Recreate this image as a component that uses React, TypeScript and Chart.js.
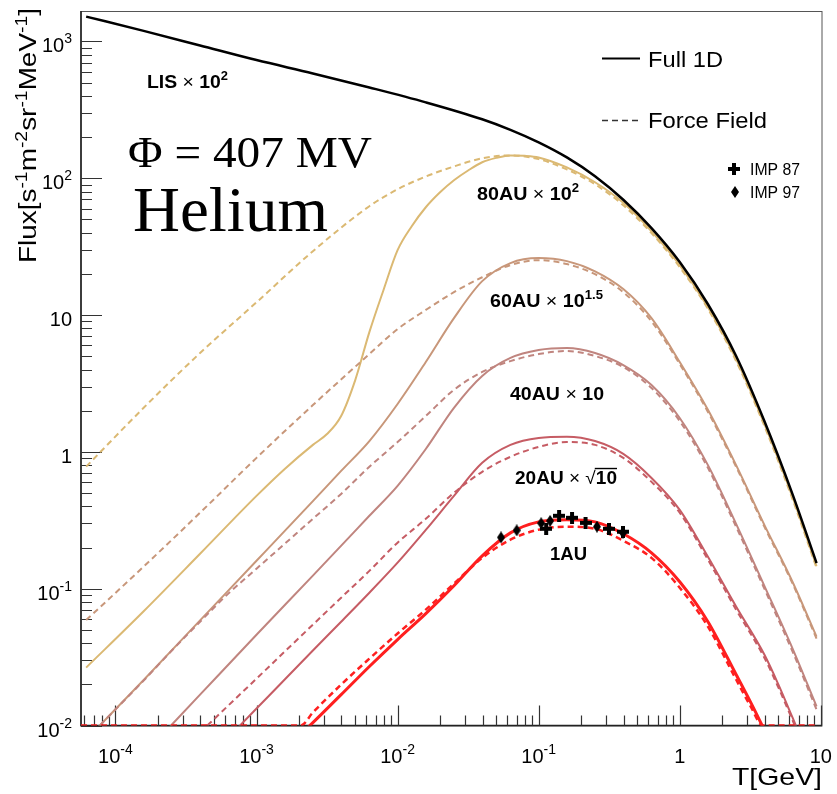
import React, { useEffect, useRef } from 'react';
import { Chart, registerables } from 'chart.js';

Chart.register(...registerables);

// ---------- axis ranges ----------
const X_MIN = 5.7e-5;
const X_MAX = 10.2;
const Y_MIN = 0.01;
const Y_MAX = 1670;

// ---------- tick labels ----------
const X_TICK_VALUES = [1e-4, 1e-3, 1e-2, 1e-1, 1, 10];
const X_TICK_LABELS = [['10', '-4'], ['10', '-3'], ['10', '-2'], ['10', '-1'], ['1', ''], ['10', '']];
const Y_TICK_VALUES = [0.01, 0.1, 1, 10, 100, 1000];
const Y_TICK_LABELS = [['10', '-2'], ['10', '-1'], ['1', ''], ['10', ''], ['10', '2'], ['10', '3']];

// ---------- series (T in GeV, flux) ----------
const LIS_T = [6.2e-5, 1.585e-4, 3.98e-4, 1e-3, 2.51e-3, 6.31e-3, 0.01585, 0.0398, 0.0631, 0.1, 0.1585, 0.251, 0.398, 0.631, 1, 1.585, 2.51, 3.98, 6.31, 9.33];
const LIS_F = [1520, 1195, 935, 731, 584, 461, 359, 270, 226, 183, 142, 103.5, 69.7, 43.2, 24.4, 12.0, 5.02, 1.68, 0.489, 0.154];

const AU80_T = [6.2e-5, 1.585e-4, 3.98e-4, 1e-3, 1.585e-3, 2.51e-3, 3.16e-3, 3.98e-3, 5.01e-3, 6.31e-3, 7.94e-3, 0.01, 0.0126, 0.01585, 0.02, 0.0251, 0.0316, 0.0398, 0.05, 0.0631, 0.0794, 0.1, 0.1585, 0.251, 0.398, 0.631, 1, 1.585, 2.51, 3.98, 6.31, 9.33];
const AU80_F = [0.0265, 0.0684, 0.18, 0.477, 0.751, 1.125, 1.35, 1.83, 3.35, 7.5, 15.2, 29.8, 44.6, 61.4, 79.0, 96.7, 114, 131, 141, 147, 146, 142, 120, 93.5, 66.2, 41.0, 23.2, 11.4, 4.77, 1.6, 0.466, 0.146];
const AU80FF_T = [6.2e-5, 1.585e-4, 3.98e-4, 1e-3, 2.51e-3, 6.31e-3, 0.01, 0.01585, 0.0251, 0.0398, 0.0631, 0.1, 0.1585, 0.251, 0.398, 0.631, 1, 1.585, 2.51, 3.98, 6.31, 9.33];
const AU80FF_F = [0.78, 2.1, 5.28, 12.4, 29.3, 62.5, 83.1, 103, 122, 140, 147, 138, 116, 90.4, 63.5, 39.7, 22.4, 11.1, 4.62, 1.55, 0.45, 0.142];

const AU60_T = [6.2e-5, 1.585e-4, 3.98e-4, 1e-3, 2.51e-3, 3.98e-3, 6.31e-3, 0.01, 0.01585, 0.0251, 0.0398, 0.0631, 0.1, 0.1585, 0.251, 0.398, 0.631, 1, 1.585, 2.51, 3.98, 6.31, 9.33];
const AU60_F = [0.0079, 0.0215, 0.0587, 0.16, 0.437, 0.726, 1.2, 2.24, 4.54, 9.5, 17.7, 24.0, 26.1, 24.8, 20.9, 15.5, 9.5, 4.54, 2.03, 0.8, 0.293, 0.112, 0.0446];
const AU60FF_T = [6.2e-5, 1.585e-4, 3.98e-4, 1e-3, 2.51e-3, 6.31e-3, 0.01, 0.01585, 0.0251, 0.0398, 0.0631, 0.1, 0.1585, 0.251, 0.398, 0.631, 1, 1.585, 2.51, 3.98, 6.31, 9.33];
const AU60FF_F = [0.059, 0.145, 0.359, 0.904, 2.2, 5.19, 7.9, 10.9, 14.7, 18.9, 23.2, 25.2, 23.6, 19.9, 14.7, 9.0, 4.39, 1.96, 0.778, 0.284, 0.109, 0.0432];

const AU40_T = [2.0e-4, 3.98e-4, 1e-3, 2.51e-3, 6.31e-3, 0.01, 0.01585, 0.0251, 0.0398, 0.0631, 0.1, 0.1585, 0.251, 0.398, 0.631, 1, 1.585, 2.51, 3.98, 6.31, 9.33];
const AU40_F = [0.0079, 0.0168, 0.0461, 0.1245, 0.341, 0.565, 1.05, 2.1, 3.59, 4.86, 5.55, 5.74, 5.28, 4.31, 3.08, 1.77, 0.8, 0.298, 0.105, 0.0365, 0.0138];
const AU40FF_T = [6.2e-5, 1e-4, 1.585e-4, 2.51e-4, 3.98e-4, 6.31e-4, 1e-3, 1.585e-3, 2.51e-3, 3.98e-3, 6.31e-3, 0.01, 0.01585, 0.0251, 0.0398, 0.0631, 0.1, 0.1585, 0.251, 0.398, 0.631, 1, 1.585, 2.51, 3.98, 6.31, 9.33];
const AU40FF_F = [0.0079, 0.0131, 0.0213, 0.0353, 0.0574, 0.092, 0.14, 0.213, 0.324, 0.493, 0.778, 1.18, 1.83, 2.84, 3.84, 4.61, 5.19, 5.46, 5.02, 4.17, 2.93, 1.68, 0.764, 0.284, 0.1, 0.0347, 0.0131];

const AU20_T = [6.31e-4, 1e-3, 1.585e-3, 2.51e-3, 3.98e-3, 6.31e-3, 0.01, 0.01585, 0.0251, 0.0398, 0.0631, 0.1, 0.1585, 0.251, 0.398, 0.631, 1, 1.585, 2.51, 3.98, 5.01, 6.31, 7.08];
const AU20_F = [0.00817, 0.0133, 0.0217, 0.0353, 0.0574, 0.0935, 0.155, 0.269, 0.477, 0.832, 1.125, 1.265, 1.29, 1.2, 0.967, 0.645, 0.377, 0.171, 0.074, 0.033, 0.0199, 0.0114, 0.0086];
const AU20FF_T = [3.98e-4, 6.31e-4, 1e-3, 1.585e-3, 2.51e-3, 3.98e-3, 6.31e-3, 0.01, 0.01585, 0.0251, 0.0398, 0.0631, 0.1, 0.1585, 0.251, 0.398, 0.631, 1, 1.585, 2.51, 3.98, 5.01, 6.31, 7.08];
const AU20FF_F = [0.00889, 0.014, 0.022, 0.0347, 0.0546, 0.0859, 0.135, 0.217, 0.324, 0.502, 0.715, 0.92, 1.087, 1.18, 1.125, 0.904, 0.604, 0.359, 0.163, 0.0703, 0.0313, 0.0189, 0.0109, 0.0082];

const AU1_T = [2.24e-3, 2.51e-3, 3.98e-3, 6.31e-3, 0.01, 0.01585, 0.0251, 0.0398, 0.0631, 0.1, 0.1585, 0.251, 0.398, 0.631, 1, 1.585, 2.51, 3.16, 3.98];
const AU1_F = [0.00935, 0.0105, 0.0168, 0.027, 0.0425, 0.0657, 0.105, 0.174, 0.256, 0.308, 0.319, 0.308, 0.252, 0.183, 0.1125, 0.0574, 0.0236, 0.015, 0.0093];
const AU1FF_T = [5.7e-5, 2.06e-3, 2.51e-3, 3.98e-3, 6.31e-3, 0.01, 0.01585, 0.0251, 0.0398, 0.0631, 0.1, 0.1585, 0.251, 0.398, 0.631, 1, 1.585, 2.51, 3.16, 3.89, 9.33];
const AU1FF_F = [0.01, 0.01, 0.01245, 0.0199, 0.0308, 0.047, 0.0703, 0.109, 0.168, 0.228, 0.27, 0.284, 0.274, 0.224, 0.168, 0.1017, 0.0528, 0.0217, 0.014, 0.01, 0.01];

const IMP87_T = [0.113, 0.1396, 0.1725, 0.215, 0.315, 0.396];
const IMP87_F = [0.274, 0.341, 0.33, 0.303, 0.274, 0.261];
const IMP97_T = [0.0541, 0.0699, 0.1042, 0.1205, 0.259, 0.396];
const IMP97_F = [0.237, 0.267, 0.301, 0.313, 0.284, 0.256];

// ---------- colours ----------
const C_LIS = '#000000';
const C_80 = '#dbb973';
const C_60 = '#c8977a';
const C_40 = '#c0857f';
const C_20 = '#c65c64';
const C_1 = '#ff1f1f';

const SANS = '"Liberation Sans", Arial, Helvetica, sans-serif';
const SERIF = '"Liberation Serif", "Times New Roman", serif';

type Seg = { t: string; px: number; bold?: boolean; serif?: boolean; rise?: number; over?: boolean };

function fontOf(s: Seg) {
  return `${s.bold ? 'bold ' : ''}${s.px}px ${s.serif ? SERIF : SANS}`;
}

function drawRich(ctx: CanvasRenderingContext2D, segs: Seg[], x: number, y: number, align: string, target?: number, rot = 0) {
  let w = 0;
  const ws: number[] = [];
  for (const s of segs) {
    ctx.font = fontOf(s);
    const m = ctx.measureText(s.t).width;
    ws.push(m);
    w += m;
  }
  const k = target ? target / w : 1;
  ctx.save();
  ctx.translate(x, y);
  if (rot) ctx.rotate(rot);
  ctx.scale(k, 1);
  let cx = align === 'left' ? 0 : align === 'right' ? -w : -w / 2;
  ctx.textAlign = 'left';
  ctx.textBaseline = 'alphabetic';
  ctx.fillStyle = '#000';
  ctx.strokeStyle = '#000';
  segs.forEach((s, i) => {
    ctx.font = fontOf(s);
    ctx.fillText(s.t, cx, -(s.rise || 0));
    if (s.over) {
      const oy = -(s.rise || 0) - s.px * 0.86;
      ctx.lineWidth = 1.4;
      ctx.beginPath();
      ctx.moveTo(cx - 1, oy);
      ctx.lineTo(cx + ws[i], oy);
      ctx.stroke();
    }
    cx += ws[i];
  });
  ctx.restore();
}

function makeCross() {
  const c = document.createElement('canvas');
  c.width = 12; c.height = 12;
  const g = c.getContext('2d')!;
  g.fillStyle = '#000';
  g.fillRect(0, 4, 12, 4);
  g.fillRect(4, 0, 4, 12);
  return c;
}
function makeDiamond() {
  const c = document.createElement('canvas');
  c.width = 8; c.height = 12;
  const g = c.getContext('2d')!;
  g.fillStyle = '#000';
  g.beginPath();
  g.moveTo(4, 0); g.lineTo(8, 6); g.lineTo(4, 12); g.lineTo(0, 6); g.closePath();
  g.fill();
  return c;
}

const pts = (t: number[], f: number[]) => t.map((v, i) => ({ x: v, y: f[i] }));

export default function App() {
  const ref = useRef<HTMLCanvasElement>(null);

  useEffect(() => {
    if (!ref.current) return;
    const cross = makeCross();
    const diamond = makeDiamond();

    const line = (label: string, t: number[], f: number[], color: string, width: number, dashed: boolean) => ({
      label,
      data: pts(t, f),
      borderColor: color,
      backgroundColor: color,
      borderWidth: width,
      borderDash: dashed ? [6, 4] : [],
      pointRadius: 0,
      fill: false,
      cubicInterpolationMode: 'monotone' as const,
      showLine: true,
    });

    const rootPlugin = {
      id: 'rootStyle',
      beforeDatasetsDraw(chart: any) {
        const { ctx, chartArea: a, scales } = chart;
        const xs = scales.x;
        const ys = scales.y;
        ctx.save();
        ctx.strokeStyle = '#555';
        ctx.lineWidth = 1;
        ctx.strokeRect(a.left, a.top + 0.5, a.right - a.left, a.bottom - a.top);
        ctx.strokeStyle = '#222';
        ctx.lineWidth = 1.6;
        ctx.beginPath();
        ctx.moveTo(a.left, a.top);
        ctx.lineTo(a.left, a.bottom);
        ctx.lineTo(a.right, a.bottom);
        ctx.stroke();
        ctx.lineWidth = 1.2;
        ctx.strokeStyle = '#333';
        ctx.beginPath();
        for (let d = -6; d <= 4; d++) {
          for (let m = 1; m <= 9; m++) {
            const v = m * Math.pow(10, d);
            if (v >= X_MIN && v <= X_MAX * 1.0001) {
              const p = Math.round(xs.getPixelForValue(v)) + 0.5;
              const len = m === 1 ? 20 : 10;
              ctx.moveTo(p, a.bottom);
              ctx.lineTo(p, a.bottom - len);
            }
            if (v >= Y_MIN * 0.9999 && v <= Y_MAX) {
              const p = Math.round(ys.getPixelForValue(v)) + 0.5;
              const len = m === 1 ? 21 : 11;
              ctx.moveTo(a.left, p);
              ctx.lineTo(a.left + len, p);
            }
          }
        }
        ctx.stroke();
        ctx.restore();
      },
      afterDraw(chart: any) {
        const { ctx, chartArea: a, scales } = chart;
        const xs = scales.x;
        const ys = scales.y;
        ctx.save();
        // tick labels
        X_TICK_VALUES.forEach((v, i) => {
          const [b, s] = X_TICK_LABELS[i];
          const segs: Seg[] = [{ t: b, px: 20 }];
          if (s) segs.push({ t: s, px: 14, rise: 9 });
          drawRich(ctx, segs, xs.getPixelForValue(v), a.bottom + 37, 'center');
        });
        Y_TICK_VALUES.forEach((v, i) => {
          const [b, s] = Y_TICK_LABELS[i];
          const segs: Seg[] = [{ t: b, px: 20 }];
          if (s) segs.push({ t: s, px: 14, rise: 9 });
          drawRich(ctx, segs, a.left - 9, ys.getPixelForValue(v) + 11, 'right');
        });
        // axis titles
        drawRich(ctx, [{ t: 'T[GeV]', px: 24 }], a.right, 785, 'right', 90);
        drawRich(ctx, [
          { t: 'Flux[s', px: 23 }, { t: '-1', px: 16, rise: 9 },
          { t: 'm', px: 23 }, { t: '-2', px: 16, rise: 9 },
          { t: 'sr', px: 23 }, { t: '-1', px: 16, rise: 9 },
          { t: 'MeV', px: 23 }, { t: '-1', px: 16, rise: 9 },
          { t: ']', px: 23 },
        ], 36, 263, 'left', 255, -Math.PI / 2);

        // big labels
        drawRich(ctx, [{ t: 'Φ = 407 MV', px: 44, serif: true }], 128, 167, 'left', 244);
        drawRich(ctx, [{ t: 'Helium', px: 63, serif: true }], 133, 231, 'left', 195);

        // curve labels
        const B = 18;
        const S = 12;
        drawRich(ctx, [{ t: 'LIS', px: B, bold: true }, { t: ' × ', px: B }, { t: '10', px: B, bold: true }, { t: '2', px: S, bold: true, rise: 8 }], 147, 88, 'left', 81);
        drawRich(ctx, [{ t: '80AU', px: B, bold: true }, { t: ' × ', px: B }, { t: '10', px: B, bold: true }, { t: '2', px: S, bold: true, rise: 8 }], 477, 200, 'left', 102);
        drawRich(ctx, [{ t: '60AU', px: B, bold: true }, { t: ' × ', px: B }, { t: '10', px: B, bold: true }, { t: '1.5', px: S, bold: true, rise: 8 }], 490, 307, 'left', 113);
        drawRich(ctx, [{ t: '40AU', px: B, bold: true }, { t: ' × ', px: B }, { t: '10', px: B, bold: true }], 510, 400, 'left', 94);
        drawRich(ctx, [{ t: '20AU', px: B, bold: true }, { t: ' × ', px: B }, { t: '√', px: B }, { t: '10', px: B, bold: true, over: true }], 515, 484, 'left', 102);
        drawRich(ctx, [{ t: '1AU', px: B, bold: true }], 550, 560, 'left', 37);

        // legend
        ctx.strokeStyle = '#000';
        ctx.lineWidth = 2;
        ctx.setLineDash([]);
        ctx.beginPath();
        ctx.moveTo(602, 58.5);
        ctx.lineTo(640, 58.5);
        ctx.stroke();
        ctx.strokeStyle = '#333';
        ctx.lineWidth = 1.5;
        ctx.setLineDash([6, 4]);
        ctx.beginPath();
        ctx.moveTo(602, 120.5);
        ctx.lineTo(640, 120.5);
        ctx.stroke();
        ctx.setLineDash([]);
        drawRich(ctx, [{ t: 'Full 1D', px: 22 }], 648, 67, 'left', 75);
        drawRich(ctx, [{ t: 'Force Field', px: 22 }], 648, 128, 'left', 119);
        ctx.drawImage(cross, 734 - 6, 169 - 6);
        ctx.drawImage(diamond, 735 - 4, 192 - 6);
        drawRich(ctx, [{ t: 'IMP 87', px: 16 }], 750, 175, 'left', 50);
        drawRich(ctx, [{ t: 'IMP 97', px: 16 }], 750, 198, 'left', 50);
        ctx.restore();
      },
    };

    const chart = new Chart(ref.current, {
      type: 'line',
      data: {
        datasets: [
          { label: 'IMP 87', data: pts(IMP87_T, IMP87_F), showLine: false, pointStyle: cross as any, pointRadius: 5, borderColor: '#000', backgroundColor: '#000' },
          { label: 'IMP 97', data: pts(IMP97_T, IMP97_F), showLine: false, pointStyle: diamond as any, pointRadius: 5, borderColor: '#000', backgroundColor: '#000' },
          line('1AU FF', AU1FF_T, AU1FF_F, C_1, 2.5, true),
          line('1AU', AU1_T, AU1_F, C_1, 3, false),
          line('20AU FF', AU20FF_T, AU20FF_F, C_20, 2, true),
          line('20AU', AU20_T, AU20_F, C_20, 2, false),
          line('40AU FF', AU40FF_T, AU40FF_F, C_40, 2, true),
          line('40AU', AU40_T, AU40_F, C_40, 2, false),
          line('60AU FF', AU60FF_T, AU60FF_F, C_60, 2, true),
          line('60AU', AU60_T, AU60_F, C_60, 2, false),
          line('LIS', LIS_T, LIS_F, C_LIS, 2.5, false),
          line('80AU', AU80_T, AU80_F, C_80, 2, false),
          line('80AU FF', AU80FF_T, AU80FF_F, C_80, 2, true),
        ] as any,
      },
      options: {
        responsive: false,
        animation: false,
        layout: { padding: { left: 81, right: 15, top: 11, bottom: 68.5 } },
        plugins: { legend: { display: false }, tooltip: { enabled: false } },
        scales: {
          x: { type: 'logarithmic', min: X_MIN, max: X_MAX, display: false },
          y: { type: 'logarithmic', min: Y_MIN, max: Y_MAX, display: false },
        },
      },
      plugins: [rootPlugin],
    });
    return () => chart.destroy();
  }, []);

  return (
    <div style={{ position: 'absolute', left: 0, top: 0, width: 837, height: 794, background: '#fff' }}>
      <canvas ref={ref} width={837} height={794} style={{ display: 'block' }} />
    </div>
  );
}
